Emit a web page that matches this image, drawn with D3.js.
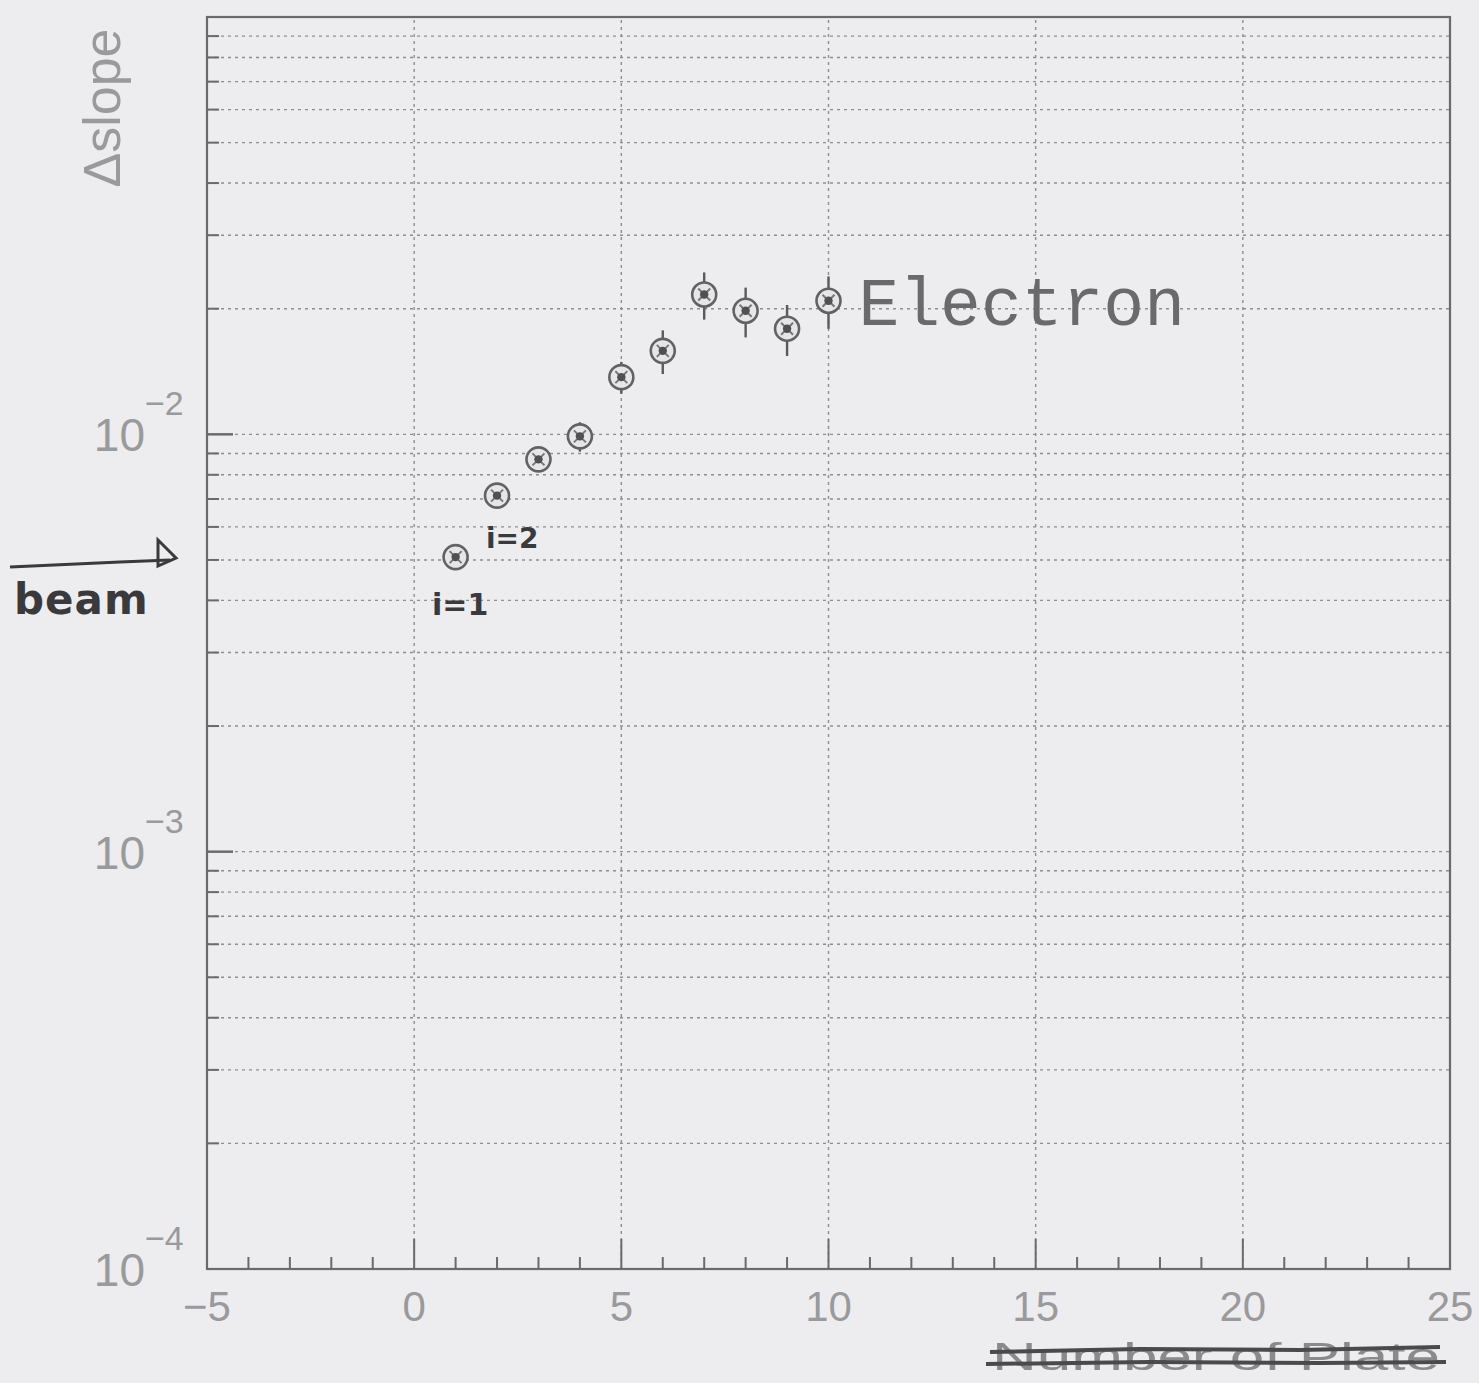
<!DOCTYPE html>
<html>
<head>
<meta charset="utf-8">
<script src="https://cdn.jsdelivr.net/npm/d3@7"></script>
<style>
  html, body { margin: 0; padding: 0; background: #ededf0; }
  svg { display: block; }
</style>
</head>
<body>
<svg id="chart" width="1479" height="1383"></svg>
<script>
// Plate number and measured slope spread per plate
const plates = [1, 2, 3, 4, 5, 6, 7, 8, 9, 10];
const dslope = [0.00508, 0.00713, 0.00871, 0.00989, 0.01371, 0.01585, 0.02163, 0.01977, 0.01791, 0.0209];
const dslopeErr = [0.0003, 0.0003, 0.0003, 0.0008, 0.0012, 0.0019, 0.0028, 0.0027, 0.0025, 0.003];

const xTicks = [-5, 0, 5, 10, 15, 20, 25];
const yDecades = [-4, -3, -2];

const svg = d3.select("#chart");
const W = 1479, H = 1383;
const m = { left: 207, right: 29, top: 17, bottom: 114 };

const x = d3.scaleLinear().domain([-5, 25]).range([m.left, W - m.right]);
const y = d3.scaleLog().domain([1e-4, 1e-1]).range([H - m.bottom, m.top]);

const labelColor = "#9a9a9c";
const axisColor = "#6a6a6c";
const gridColor = "#8e8e92";

// minor log gridlines: 1..9 x 10^k
const yGrid = [];
for (let k = -4; k <= -2; k++) {
  for (let d = 1; d <= 9; d++) {
    const v = d * Math.pow(10, k);
    if (v > 1e-4 && v < 1e-1) yGrid.push(v);
  }
}
const xGrid = [0, 5, 10, 15, 20];

const grid = svg.append("g");
grid.selectAll("line.h").data(yGrid).join("line")
  .attr("x1", x(-5)).attr("x2", x(25))
  .attr("y1", d => y(d)).attr("y2", d => y(d))
  .attr("stroke", gridColor).attr("stroke-width", 1.4)
  .attr("stroke-dasharray", "3,4");
grid.selectAll("line.v").data(xGrid).join("line")
  .attr("x1", d => x(d)).attr("x2", d => x(d))
  .attr("y1", y(1e-4)).attr("y2", y(1e-1))
  .attr("stroke", gridColor).attr("stroke-width", 1.4)
  .attr("stroke-dasharray", "3,4");

// y ticks (inward): long at decades, short at minors
const yTickVals = yGrid.concat(yDecades.map(k => Math.pow(10, k)).filter(v => v > 1e-4));
svg.append("g").selectAll("line").data(yTickVals).join("line")
  .attr("x1", x(-5))
  .attr("x2", d => x(-5) + (Math.abs(Math.log10(d) - Math.round(Math.log10(d))) < 1e-9 ? 26 : 12))
  .attr("y1", d => y(d)).attr("y2", d => y(d))
  .attr("stroke", axisColor).attr("stroke-width", 2);

// x ticks (inward): long at multiples of 5, short at each unit
const xTickVals = d3.range(-4, 25);
svg.append("g").selectAll("line").data(xTickVals).join("line")
  .attr("x1", d => x(d)).attr("x2", d => x(d))
  .attr("y1", y(1e-4))
  .attr("y2", d => y(1e-4) - (d % 5 === 0 ? 30 : 12))
  .attr("stroke", axisColor).attr("stroke-width", 2);

// frame
svg.append("rect")
  .attr("x", x(-5)).attr("y", y(1e-1))
  .attr("width", x(25) - x(-5)).attr("height", y(1e-4) - y(1e-1))
  .attr("fill", "none").attr("stroke", axisColor).attr("stroke-width", 2.2);

// x tick labels
svg.append("g").selectAll("text").data(xTicks).join("text")
  .attr("x", d => x(d)).attr("y", y(1e-4) + 52)
  .attr("text-anchor", "middle")
  .attr("font-family", "Liberation Sans, Arial, sans-serif")
  .attr("font-size", 42).attr("fill", labelColor)
  .text(d => d < 0 ? "\u2212" + Math.abs(d) : d);

// y tick labels 10^k
const yl = svg.append("g").selectAll("g").data(yDecades).join("g")
  .attr("transform", d => `translate(${x(-5) - 62},${y(Math.pow(10, d)) + 17})`);
yl.append("text")
  .attr("text-anchor", "end")
  .attr("font-family", "Liberation Sans, Arial, sans-serif")
  .attr("font-size", 46).attr("fill", labelColor)
  .text("10");
yl.append("text")
  .attr("x", 0).attr("y", -36)
  .attr("font-family", "Liberation Sans, Arial, sans-serif")
  .attr("font-size", 34).attr("fill", labelColor)
  .text(d => "\u2212" + Math.abs(d));

// y axis title
svg.append("text")
  .attr("transform", `translate(120,108) rotate(-90)`)
  .attr("text-anchor", "middle")
  .attr("font-family", "Liberation Sans, Arial, sans-serif")
  .attr("font-size", 52).attr("fill", labelColor)
  .text("\u0394slope");

// x axis title, struck out by hand
const xt = svg.append("g");
xt.append("text")
  .attr("x", 992).attr("y", 1370)
  .attr("textLength", 448).attr("lengthAdjust", "spacingAndGlyphs")
  .attr("font-family", "Liberation Sans, Arial, sans-serif")
  .attr("font-size", 38).attr("fill", "#8a8a8c")
  .text("Number of Plate");
xt.append("path")
  .attr("d", "M990,1352 L1140,1349 L1300,1350 L1440,1347")
  .attr("fill", "none").attr("stroke", "#4a4a4c").attr("stroke-width", 4);
xt.append("path")
  .attr("d", "M986,1364 L1150,1362 L1320,1363 L1446,1362")
  .attr("fill", "none").attr("stroke", "#4a4a4c").attr("stroke-width", 4);

// data points with error bars
const pts = plates.map((p, i) => ({ p, v: dslope[i], e: dslopeErr[i] }));
const gp = svg.append("g");
gp.selectAll("line").data(pts).join("line")
  .attr("x1", d => x(d.p)).attr("x2", d => x(d.p))
  .attr("y1", d => y(d.v - d.e)).attr("y2", d => y(d.v + d.e))
  .attr("stroke", "#5a5a5c").attr("stroke-width", 2.4);
const mk = gp.selectAll("g").data(pts).join("g")
  .attr("transform", d => `translate(${x(d.p)},${y(d.v)})`);
mk.append("circle").attr("r", 12)
  .attr("fill", "#e6e6e9").attr("stroke", "#626264").attr("stroke-width", 2.6);
mk.append("path").attr("d", "M-6,-6L6,6M-6,6L6,-6")
  .attr("stroke", "#77777a").attr("stroke-width", 2);
mk.append("circle").attr("r", 4.2).attr("fill", "#505052");

// series label
svg.append("text")
  .attr("x", x(10) + 30).attr("y", y(0.0209) + 24)
  .attr("font-family", "Liberation Mono, Courier New, monospace")
  .attr("font-size", 68).attr("fill", "#6a6a6c")
  .text("Electron");

// handwritten annotations
const hand = svg.append("g").attr("fill", "#3a3a3c")
  .attr("font-family", "DejaVu Sans, sans-serif").attr("font-weight", "bold");
hand.append("path")
  .attr("d", "M10,567 L120,562 L170,560")
  .attr("fill", "none").attr("stroke", "#3a3a3c").attr("stroke-width", 3);
hand.append("path")
  .attr("d", "M158,540 L176,558 L158,566 Z")
  .attr("fill", "none").attr("stroke", "#3a3a3c").attr("stroke-width", 3);
hand.append("text").attr("x", 14).attr("y", 614).attr("font-size", 42)
  .attr("letter-spacing", 1).text("beam");
hand.append("text").attr("x", 432).attr("y", 615).attr("font-size", 30).text("i=1");
hand.append("text").attr("x", 486).attr("y", 548).attr("font-size", 28).text("i=2");
</script>
</body>
</html>
